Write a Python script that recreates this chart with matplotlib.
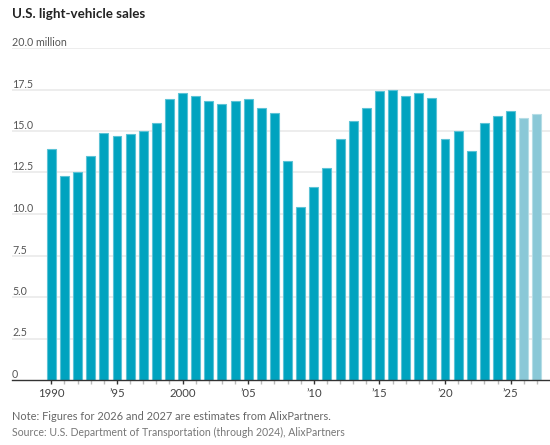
import matplotlib
matplotlib.use("Agg")
import matplotlib.pyplot as plt

# U.S. light-vehicle sales, millions (2026-27 are AlixPartners estimates)
years = list(range(1990, 2028))
sales = [13.9, 12.3, 12.5, 13.5, 14.9, 14.7, 14.8, 15.0, 15.5, 16.9,
         17.3, 17.1, 16.8, 16.6, 16.8, 16.9, 16.4, 16.1, 13.2, 10.4,
         11.6, 12.8, 14.5, 15.6, 16.4, 17.4, 17.5, 17.1, 17.3, 17.0,
         14.5, 15.0, 13.8, 15.5, 15.9, 16.2, 15.8, 16.0]
estimate_years = [2026, 2027]

y_ticks = [0, 2.5, 5.0, 7.5, 10.0, 12.5, 15.0, 17.5, 20.0]
y_labels = ["0", "2.5", "5.0", "7.5", "10.0", "12.5", "15.0", "17.5", "20.0 million"]
x_major = [1990, 1995, 2000, 2005, 2010, 2015, 2020, 2025]
x_labels = ["1990", "\u201995", "2000", "\u201905", "\u201910", "\u201915", "\u201920", "\u201925"]

title = "U.S. light-vehicle sales"
note = "Note: Figures for 2026 and 2027 are estimates from AlixPartners."
source = "Source: U.S. Department of Transportation (through 2024), AlixPartners"

plt.rcParams['font.family'] = ['Lato', 'DejaVu Sans']

fig = plt.figure(figsize=(5.5, 4.45), dpi=100)
ax = fig.add_axes([12 / 550, 65 / 445, 1 - 12 / 550, (380 - 48) / 445])

colors = ['#8ac8d7' if y in estimate_years else '#00a3bf' for y in years]
edges = ['#b5dde6' if y in estimate_years else '#5cc3d6' for y in years]
ax.bar(years, sales, width=0.68, color=colors, edgecolor=edges, linewidth=0.8, zorder=3)

ax.set_xlim(1987.0, 2028.0)
ax.set_ylim(0, 20)

# gridlines and y labels sitting on top of them
for t, lab in zip(y_ticks, y_labels):
    if t > 0:
        ax.axhline(t, color='#ececec', linewidth=1.3, zorder=1)
    ax.text(0, t, lab, transform=ax.get_yaxis_transform(), ha='left', va='bottom',
            fontsize=7.7, color='#555555')
ax.set_yticks([])

for s in ['top', 'right', 'left']:
    ax.spines[s].set_visible(False)
ax.spines['bottom'].set_color('#333333')
ax.spines['bottom'].set_linewidth(1.0)
ax.spines['bottom'].set_zorder(4)

ax.set_xticks(x_major)
ax.set_xticklabels(x_labels, fontsize=8.2, color='#444444')
ax.set_xticks([y for y in years if y not in x_major], minor=True)
ax.tick_params(axis='x', which='major', length=3, width=1, color='#333333', pad=3)
ax.tick_params(axis='x', which='minor', length=3, width=1, color='#bbbbbb')

fig.text(12 / 550, 1 - 14 / 445, title, ha='left', va='center', fontsize=9.6,
         fontweight='bold', color='#222222')
fig.text(12 / 550, 1 - 416.5 / 445, note, ha='left', va='center', fontsize=7.9, color='#666666')
fig.text(12 / 550, 1 - 432 / 445, source, ha='left', va='center', fontsize=7.6, color='#777777')

fig.savefig("out.png", dpi=100)
